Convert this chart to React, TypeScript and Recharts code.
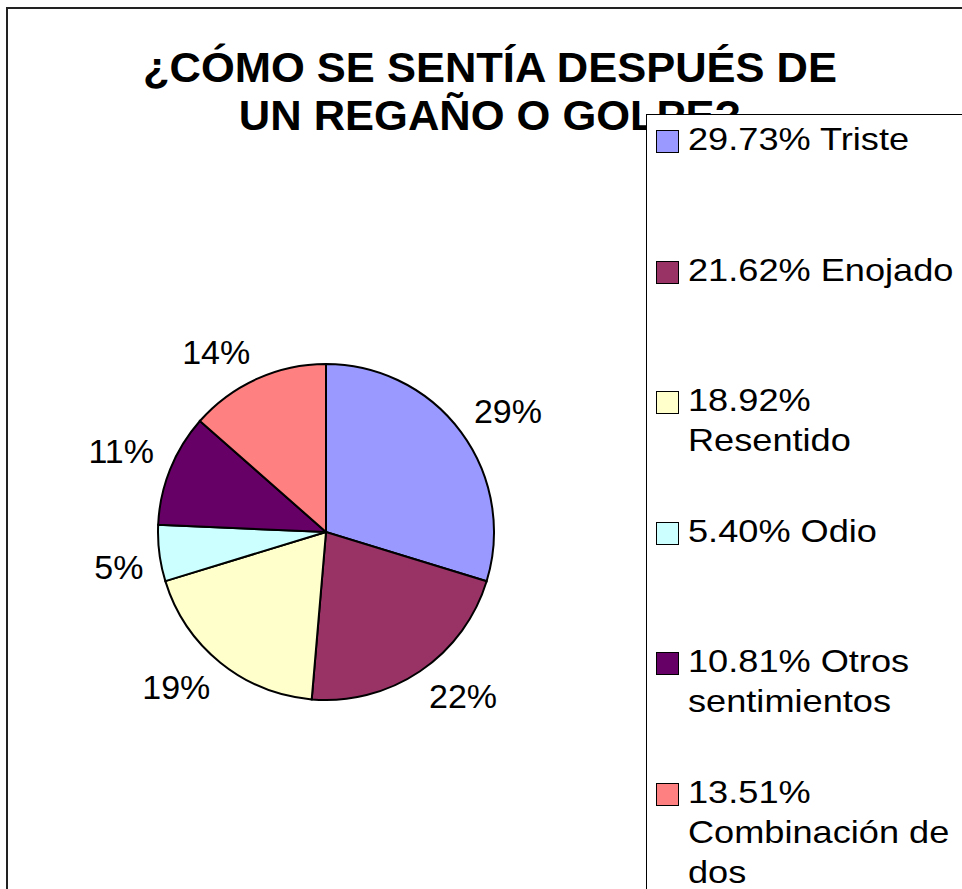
import { PieChart, Pie, Cell, Legend } from 'recharts'

const categories = ['Triste', 'Enojado', 'Resentido', 'Odio', 'Otros sentimientos', 'Combinación de dos']
const percentages = [29.73, 21.62, 18.92, 5.4, 10.81, 13.51]
const sliceLabels = ['29%', '22%', '19%', '5%', '11%', '14%']
const colors = ['#9999FF', '#993366', '#FFFFCC', '#CCFFFF', '#660066', '#FF8080']

const titleLines = ['¿CÓMO SE SENTÍA DESPUÉS DE', 'UN REGAÑO O GOLPE?']

const data = categories.map((name, i) => ({
  name: `${percentages[i].toFixed(2)}% ${name}`,
  value: percentages[i],
  fill: colors[i],
}))

const FONT = '"Liberation Sans", Arial, sans-serif'
const LABEL_SIZE = 34

// rough Arial advance widths, only used to push labels off the rim
const charWidth = (c: string) => (c === '%' ? 0.889 : 0.556)
const textWidth = (s: string) => s.split('').reduce((a, c) => a + charWidth(c), 0) * LABEL_SIZE

const RAD = Math.PI / 180

const renderLabel = (props: any) => {
  const { cx, cy, midAngle, outerRadius, index } = props
  const text = sliceLabels[index]
  const cos = Math.cos(-midAngle * RAD)
  const sin = Math.sin(-midAngle * RAD)
  const r = outerRadius + 16
  const w = textWidth(text)
  const x = cx + r * cos + Math.sign(cos) * (w / 2)
  const yc = cy + r * sin + Math.sign(sin) * 12
  return (
    <text
      x={x}
      y={yc + 12}
      textAnchor="middle"
      fill="#000"
      fontSize={LABEL_SIZE}
      fontFamily={FONT}
    >
      {text}
    </text>
  )
}

// legend keeps the series order (recharts would sort its payload)
const renderLegend = () => (
  <div
    style={{
      position: 'relative',
      width: '100%',
      height: '100%',
      background: '#fff',
      border: '1px solid #000',
      boxSizing: 'border-box',
      fontFamily: FONT,
    }}
  >
    {data.map((entry, i) => (
      <div
        key={i}
        style={{ position: 'absolute', left: 0, top: 4 + 130.5 * i, width: '100%' }}
      >
        <div
          style={{
            position: 'absolute',
            left: 9,
            top: 11,
            width: 23,
            height: 23,
            background: entry.fill,
            border: '1px solid #000',
            boxSizing: 'border-box',
          }}
        />
        <div
          style={{
            position: 'absolute',
            left: 41,
            top: 0,
            width: 240,
            fontSize: 32,
            lineHeight: '40px',
            color: '#000',
            transform: 'scaleX(1.13)',
            transformOrigin: 'left top',
          }}
        >
          {entry.name}
        </div>
      </div>
    ))}
  </div>
)

export default function App() {
  return (
    <div
      style={{
        position: 'absolute',
        left: 0,
        top: 0,
        width: 962,
        height: 889,
        overflow: 'hidden',
        background: '#fff',
      }}
    >
      <div
        style={{
          position: 'absolute',
          left: 6,
          top: 7,
          width: 1000,
          height: 1000,
          border: '2px solid #222',
        }}
      />
      <div
        style={{
          position: 'absolute',
          left: 0,
          top: 44,
          width: 980,
          textAlign: 'center',
          fontFamily: FONT,
          fontWeight: 'bold',
          fontSize: 42,
          lineHeight: '48px',
          color: '#000',
          transform: 'scaleX(1.035)',
          transformOrigin: '490px center',
        }}
      >
        {titleLines.map((l) => (
          <div key={l}>{l}</div>
        ))}
      </div>
      <PieChart
        width={962}
        height={889}
        margin={{ top: 0, right: 0, bottom: 0, left: 0 }}
        style={{ position: 'absolute', left: 0, top: 0 }}
      >
        <Pie
          data={data}
          dataKey="value"
          nameKey="name"
          cx={326}
          cy={532}
          outerRadius={168}
          startAngle={90}
          endAngle={-270}
          stroke="#000"
          strokeWidth={2}
          labelLine={false}
          label={renderLabel}
          isAnimationActive={false}
        >
          {data.map((d, i) => (
            <Cell key={i} fill={d.fill} />
          ))}
        </Pie>
        <Legend
          layout="vertical"
          align="right"
          verticalAlign="top"
          content={renderLegend}
          wrapperStyle={{ left: 646, top: 114, width: 340, height: 800, right: 'auto' }}
        />
      </PieChart>
    </div>
  )
}
